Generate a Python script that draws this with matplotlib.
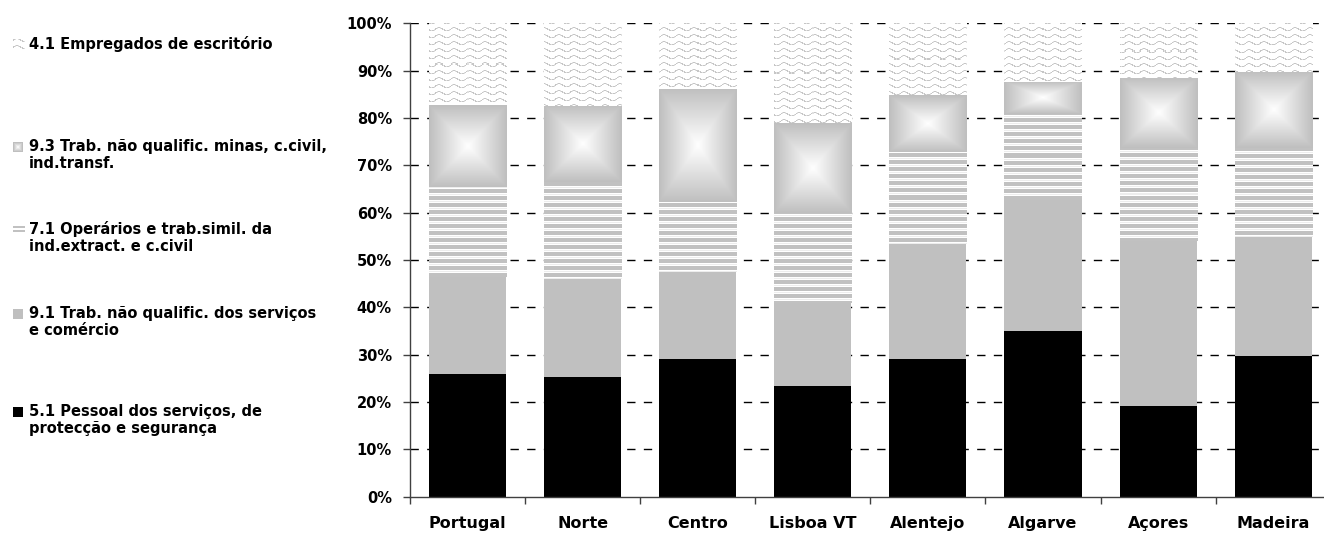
# -*- coding: utf-8 -*-
import numpy as np
import matplotlib
matplotlib.use("Agg")
import matplotlib.pyplot as plt

# -----------------------------------------------------------------------------
regions = ["Portugal", "Norte", "Centro", "Lisboa VT", "Alentejo",
           "Algarve", "Açores", "Madeira"]

# shares (%), bottom to top of each stack
pessoal_51 = [26.0, 25.3, 29.0, 23.4, 29.0, 35.1, 19.2, 29.8]
naoqual_91 = [20.5, 20.7, 18.5, 17.6, 24.4, 27.5, 34.8, 25.1]
operarios_71 = [19.0, 20.4, 14.7, 19.0, 19.5, 18.2, 19.7, 18.8]
naoqual_93 = [17.3, 16.1, 23.9, 19.0, 12.0, 6.9, 14.8, 16.1]
empregados_41 = [17.2, 17.5, 13.9, 21.0, 15.1, 12.3, 11.5, 10.2]

legend_labels = ["4.1 Empregados de escritório",
                 "9.3 Trab. não qualific. minas, c.civil,\nind.transf.",
                 "7.1 Operários e trab.simil. da\nind.extract. e c.civil",
                 "9.1 Trab. não qualific. dos serviços\ne comércio",
                 "5.1 Pessoal dos serviços, de\nprotecção e segurança"]

W, H, DPI = 1324, 536, 100
plt.rcParams['font.family'] = ['DejaVu Sans']
plt.rcParams['font.weight'] = 'bold'


# -----------------------------------------------------------------------------
def gradientTex(h, w):
    """Rectangular 'from centre' gradient, white centre, grey edges."""
    yy, xx = np.mgrid[-1:1:h * 1j, -1:1:w * 1j]
    t = np.maximum(np.abs(xx), np.abs(yy))
    g = 1.0 - (1.0 - 0.75) * t
    return np.dstack([g, g, g])


def stripeTex(h, w, y0):
    rows = (np.arange(h) + y0) % 7
    g = np.where(rows < 4, 0.76, np.where(rows == 5, 0.93, 1.0))
    g = np.repeat(g[:, None], w, axis=1)
    return np.dstack([g, g, g])


def waveTex(h, w, y0, x0):
    yy, xx = np.mgrid[0:h, 0:w]
    ph = (yy + y0 + 1.6 * np.sin(2 * np.pi * (xx + x0) / 15.0)) % 7.0
    g = np.where(ph < 1.4, 0.78, 1.0)
    dots = ((xx + x0) % 3 == 2) & (ph < 1.4)
    g = np.where(dots, 0.88, g)
    return np.dstack([g, g, g])


# -----------------------------------------------------------------------------
fig = plt.figure(figsize=(W / DPI, H / DPI), dpi=DPI)
ax = fig.add_axes([410 / W, 39.3 / H, 920.7 / W, 473.4 / H])
x = np.arange(len(regions))
bw = 0.67
xlim = (-0.5, 7.5)
ylim = (0, 100)
ax.set_xlim(*xlim)
ax.set_ylim(*ylim)

# dashed horizontal grid, under the bars
for gy in range(10, 101, 10):
    ax.axhline(gy, color="black", linewidth=1.0, linestyle=(0, (6, 6)),
               zorder=1)

bottom = np.zeros(len(regions))
series = [pessoal_51, naoqual_91, operarios_71, naoqual_93, empregados_41]
kinds = ["black", "grey", "stripe", "grad", "wave"]
for vals, kind in zip(series, kinds):
    vals = np.array(vals)
    if kind == "black":
        ax.bar(x, vals, bw, bottom=bottom, color="black", zorder=3)
    elif kind == "grey":
        ax.bar(x, vals, bw, bottom=bottom, color="#c0c0c0", zorder=3)
    else:
        for i in range(len(x)):
            x0, x1 = x[i] - bw / 2, x[i] + bw / 2
            y0, y1 = bottom[i], bottom[i] + vals[i]
            p0 = ax.transData.transform((x0, y0))
            p1 = ax.transData.transform((x1, y1))
            wpx = max(int(round(p1[0] - p0[0])), 1)
            hpx = max(int(round(p1[1] - p0[1])), 1)
            ytop = int(round(H - p1[1]))
            if kind == "grad":
                img = gradientTex(hpx, wpx)
                interp = "bilinear"
            elif kind == "stripe":
                img = stripeTex(hpx, wpx, ytop)
                interp = "nearest"
            else:
                img = waveTex(hpx, wpx, ytop, int(round(p0[0])))
                interp = "nearest"
            ax.imshow(img, extent=(x0, x1, y0, y1), aspect="auto",
                      interpolation=interp, zorder=3)
    bottom = bottom + vals

ax.set_xlim(*xlim)
ax.set_ylim(*ylim)

# axes styling
for s in ["top", "right"]:
    ax.spines[s].set_visible(False)
for s in ["left", "bottom"]:
    ax.spines[s].set_color("#404040")
    ax.spines[s].set_linewidth(1.0)
    ax.spines[s].set_zorder(4)
ax.set_yticks(np.arange(0, 101, 10))
ax.set_yticklabels([f"{v}%" for v in range(0, 101, 10)], fontsize=10.5,
                   fontweight="bold")
ax.tick_params(axis="y", length=5, width=1, color="#404040", pad=8)

ax.set_xticks(np.arange(-0.5, 8.0, 1.0))
ax.set_xticklabels([])
ax.set_xticks(x, minor=True)
ax.set_xticklabels(regions, minor=True, fontsize=11.5, fontweight="bold")
ax.tick_params(axis="x", which="major", length=5, width=1, color="#404040")
ax.tick_params(axis="x", which="minor", length=0, pad=14)

# legend drawn on the left, in pixel coordinates
lax = fig.add_axes([0, 0, 1, 1], facecolor="none")
leg_y = [44, 147, 229, 314, 412]
for lab, ly, kind in zip(legend_labels, leg_y, kinds[::-1]):
    lax.text(29, ly - 8, lab, fontsize=10.5, fontweight="bold", va="top",
             ha="left", linespacing=1.2)
    if kind == "black":
        icon = np.zeros((10, 10, 3))
    elif kind == "grey":
        icon = np.full((10, 10, 3), 0.75)
    elif kind == "stripe":
        icon = np.ones((10, 12, 3))
        icon[2:4] = 0.76
        icon[6:8] = 0.76
    elif kind == "grad":
        icon = gradientTex(10, 10)
    else:
        icon = waveTex(10, 12, 0, 0)
    ih, iw = icon.shape[:2]
    lax.imshow(icon, extent=(13, 13 + iw, ly + 5, ly - 5), aspect="auto",
               interpolation="nearest")
lax.set_xlim(0, W)
lax.set_ylim(H, 0)
lax.axis("off")

fig.savefig("out.png", dpi=DPI)
